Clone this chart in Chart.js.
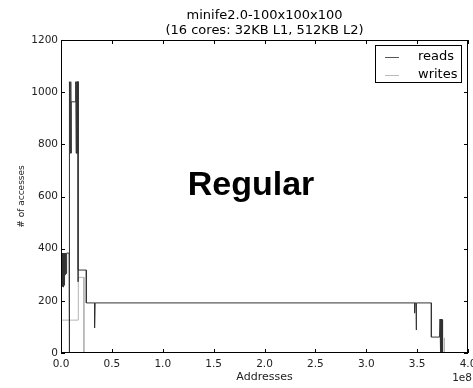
<!DOCTYPE html>
<html>
<head>
<meta charset="utf-8">
<script src="https://cdn.jsdelivr.net/npm/chart.js@4.4.0/dist/chart.umd.min.js"></script>
<style>
  body { margin: 0; background: #fff; }
  canvas { display: block; }
</style>
</head>
<body>
<canvas id="chart" width="473" height="388"></canvas>
<script>
// addresses are in units of 1e8
const readsX = [0.005, 0.01, 0.015, 0.02, 0.025, 0.03, 0.035, 0.04, 0.045, 0.05, 0.055, 0.08,
  0.08, 0.08, 0.084, 0.088, 0.092, 0.096, 0.1, 0.1, 0.145, 0.145, 0.149, 0.153, 0.157, 0.161,
  0.165, 0.168, 0.168, 0.168, 0.249, 0.249, 0.33, 0.33, 0.335, 3.475, 3.475, 3.48, 3.49, 3.49,
  3.495, 3.64, 3.64, 3.72, 3.725, 3.73, 3.735, 3.74, 3.745, 3.75];
const readsY = [383, 255, 383, 253, 383, 260, 383, 300, 383, 305, 383, 383,
  0, 1040, 766, 1040, 766, 1040, 766, 963, 963, 1040, 766, 1040, 766, 1040,
  766, 1040, 273, 318, 318, 192, 192, 96, 192, 192, 153, 192, 192, 88,
  192, 192, 61, 61, 130, 5, 130, 0, 128, 0];
const writesX = [0, 0.17, 0.17, 0.225, 0.225, 3.733, 3.733, 3.735, 3.766, 3.766, 3.77];
const writesY = [126, 126, 290, 290, 0, 0, 60, 0, 0, 58, 0];

const xTicks = [0.0, 0.5, 1.0, 1.5, 2.0, 2.5, 3.0, 3.5, 4.0];
const yTicks = [0, 200, 400, 600, 800, 1000, 1200];

const titleLines = ['minife2.0-100x100x100', '(16 cores: 32KB L1, 512KB L2)'];

const toPoints = (xs, ys) => xs.map((x, i) => ({ x: x, y: ys[i] }));

const tickFont = { family: 'DejaVu Sans', size: 10.5 };

const decorPlugin = {
  id: 'decor',
  afterDatasetsDraw(chart) {
    const { ctx, chartArea: a, scales: { x, y } } = chart;
    ctx.save();
    ctx.strokeStyle = '#000';
    ctx.lineWidth = 1;
    // frame
    ctx.strokeRect(a.left + 0.5, a.top + 0.5, a.right - a.left - 1, a.bottom - a.top - 1);
    // inward ticks
    ctx.beginPath();
    xTicks.forEach(v => {
      const px = Math.round(x.getPixelForValue(v)) + 0.5;
      ctx.moveTo(px, a.bottom); ctx.lineTo(px, a.bottom - 4);
      ctx.moveTo(px, a.top); ctx.lineTo(px, a.top + 4);
    });
    yTicks.forEach(v => {
      const py = Math.round(y.getPixelForValue(v)) + 0.5;
      ctx.moveTo(a.left, py); ctx.lineTo(a.left + 4, py);
      ctx.moveTo(a.right, py); ctx.lineTo(a.right - 4, py);
    });
    ctx.stroke();

    // title, centred over the plot area
    ctx.fillStyle = '#000';
    ctx.font = '13px "DejaVu Sans"';
    ctx.textAlign = 'center';
    ctx.textBaseline = 'middle';
    const cx = (a.left + a.right) / 2;
    titleLines.forEach((t, i) => ctx.fillText(t, cx, 15.5 + i * 15.5));

    // legend
    const lx = 375, ly = 45, lw = 86, lh = 37;
    ctx.fillStyle = '#fff';
    ctx.fillRect(lx, ly, lw, lh);
    ctx.strokeRect(lx + 0.5, ly + 0.5, lw, lh);
    ctx.font = '13px "DejaVu Sans"';
    ctx.textBaseline = 'middle';
    ctx.textAlign = 'left';
    chart.data.datasets.forEach((ds, i) => {
      const cy = 56.5 + i * 18.5;
      ctx.strokeStyle = ds.legendColor;
      ctx.beginPath();
      ctx.moveTo(385, Math.round(cy) + 0.5);
      ctx.lineTo(399, Math.round(cy) + 0.5);
      ctx.stroke();
      ctx.fillStyle = '#000';
      ctx.fillText(ds.label, 418, cy);
    });

    // annotation
    ctx.font = 'bold 34px "Liberation Sans"';
    ctx.textAlign = 'center';
    ctx.textBaseline = 'alphabetic';
    ctx.fillStyle = '#000';
    ctx.fillText('Regular', 251, 195);

    // offset text
    ctx.font = '10.5px "DejaVu Sans"';
    ctx.textAlign = 'right';
    ctx.textBaseline = 'middle';
    ctx.fillStyle = '#222';
    ctx.fillText('1e8', 472, 378);
    ctx.restore();
  }
};

new Chart(document.getElementById('chart'), {
  type: 'line',
  data: {
    datasets: [
      {
        label: 'reads',
        data: toPoints(readsX, readsY),
        borderColor: '#333',
        legendColor: '#555',
        borderWidth: 1,
        pointRadius: 0,
        tension: 0
      },
      {
        label: 'writes',
        data: toPoints(writesX, writesY),
        borderColor: '#b4b4b4',
        legendColor: '#bbb',
        borderWidth: 1,
        pointRadius: 0,
        tension: 0
      }
    ]
  },
  options: {
    responsive: false,
    animation: false,
    devicePixelRatio: 1,
    layout: { padding: { left: 0, right: 5, top: 40, bottom: 0 } },
    plugins: {
      legend: { display: false },
      tooltip: { enabled: false },
      title: { display: false }
    },
    scales: {
      x: {
        type: 'linear',
        min: 0,
        max: 4,
        grid: { display: false, drawTicks: false },
        border: { display: false },
        afterBuildTicks: s => { s.ticks = xTicks.map(v => ({ value: v })); },
        afterFit: s => { s.height = 35; s.paddingLeft = 0; s.paddingRight = 0; },
        ticks: {
          color: '#222',
          font: tickFont,
          padding: 5,
          maxRotation: 0,
          callback: v => v.toFixed(1)
        },
        title: {
          display: true,
          text: 'Addresses',
          color: '#222',
          font: { family: 'DejaVu Sans', size: 11 },
          padding: { top: 0, bottom: 4 }
        }
      },
      y: {
        min: 0,
        max: 1200,
        grid: { display: false, drawTicks: false },
        border: { display: false },
        afterBuildTicks: s => { s.ticks = yTicks.map(v => ({ value: v })); },
        afterFit: s => { s.width = 61; s.paddingTop = 0; s.paddingBottom = 0; },
        ticks: {
          color: '#222',
          font: tickFont,
          padding: 3,
          callback: v => String(v)
        },
        title: {
          display: true,
          text: '# of accesses',
          color: '#222',
          font: { family: 'DejaVu Sans', size: 9 },
          padding: { top: 16, bottom: 0 }
        }
      }
    }
  },
  plugins: [decorPlugin]
});
</script>
</body>
</html>
